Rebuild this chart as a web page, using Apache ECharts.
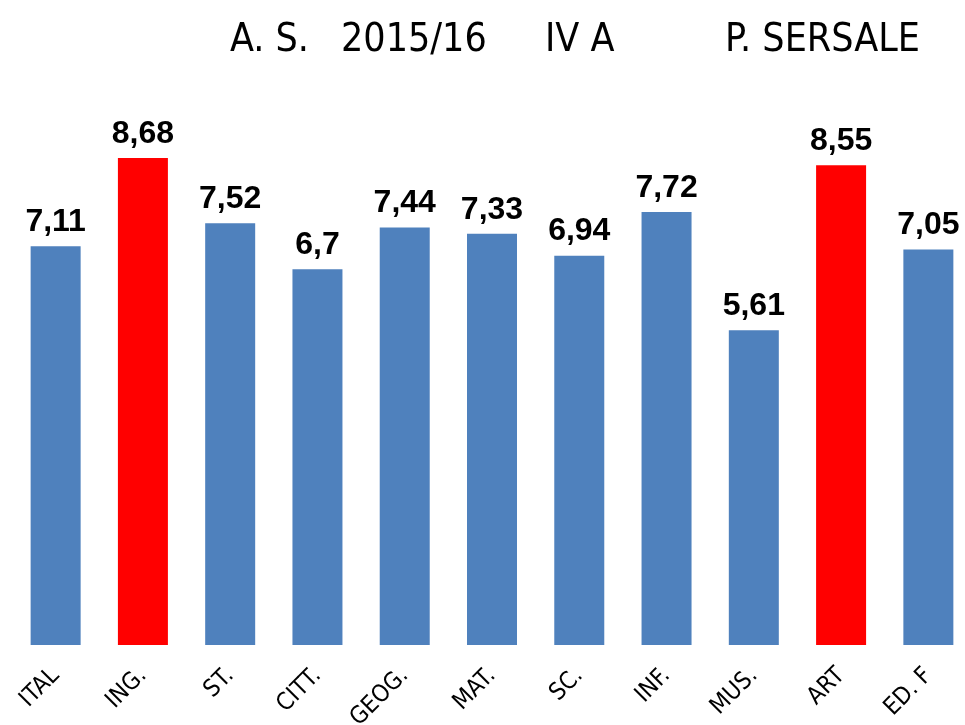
<!DOCTYPE html>
<html>
<head>
<meta charset="utf-8">
<script src="https://cdn.jsdelivr.net/npm/echarts@6/dist/echarts.min.js"></script>
<style>
html,body{margin:0;padding:0;background:#fff;}
#chart{width:965px;height:725px;}
</style>
</head>
<body>
<div id="chart"></div>
<script>
const categories = ['ITAL', 'ING.', 'ST.', 'CITT.', 'GEOG.', 'MAT.', 'SC.', 'INF.', 'MUS.', 'ART', 'ED. F'];
const values = [7.11, 8.68, 7.52, 6.7, 7.44, 7.33, 6.94, 7.72, 5.61, 8.55, 7.05];
const highlighted = ['ING.', 'ART'];
const titleParts = ['A. S.', '2015/16', 'IV A', 'P. SERSALE'];
const titleLefts = [230, 341, 545, 725];

const BLUE = '#4F81BD';
const RED = '#FF0000';
const narrow = '"DejaVu Sans Condensed", "Liberation Sans", Arial, sans-serif';

const chart = echarts.init(document.getElementById('chart'));
chart.setOption({
  animation: false,
  backgroundColor: '#ffffff',
  title: titleParts.map((t, i) => ({
    text: t,
    left: titleLefts[i],
    top: 21,
    padding: 0,
    textStyle: { fontFamily: narrow, fontSize: 39, fontWeight: 'normal', color: '#000' }
  })),
  grid: { left: 12, right: -7, top: 84, bottom: 80, containLabel: false, outerBoundsMode: 'none' },
  xAxis: {
    type: 'category',
    data: categories,
    axisLine: { show: false },
    axisTick: { show: false },
    axisLabel: {
      rotate: 45,
      margin: 27,
      interval: 0,
      fontFamily: narrow,
      fontSize: 24,
      color: '#000'
    }
  },
  yAxis: {
    type: 'value',
    min: 0,
    max: 10,
    show: false,
    splitLine: { show: false }
  },
  series: [{
    type: 'bar',
    barWidth: 50,
    data: values.map((v, i) => ({
      value: v,
      itemStyle: { color: highlighted.includes(categories[i]) ? RED : BLUE }
    })),
    label: {
      show: true,
      position: 'top',
      distance: 8,
      fontFamily: '"Liberation Sans", Arial, sans-serif',
      fontWeight: 'bold',
      fontSize: 32,
      color: '#000',
      formatter: p => String(p.value).replace('.', ',')
    }
  }]
});
</script>
</body>
</html>
